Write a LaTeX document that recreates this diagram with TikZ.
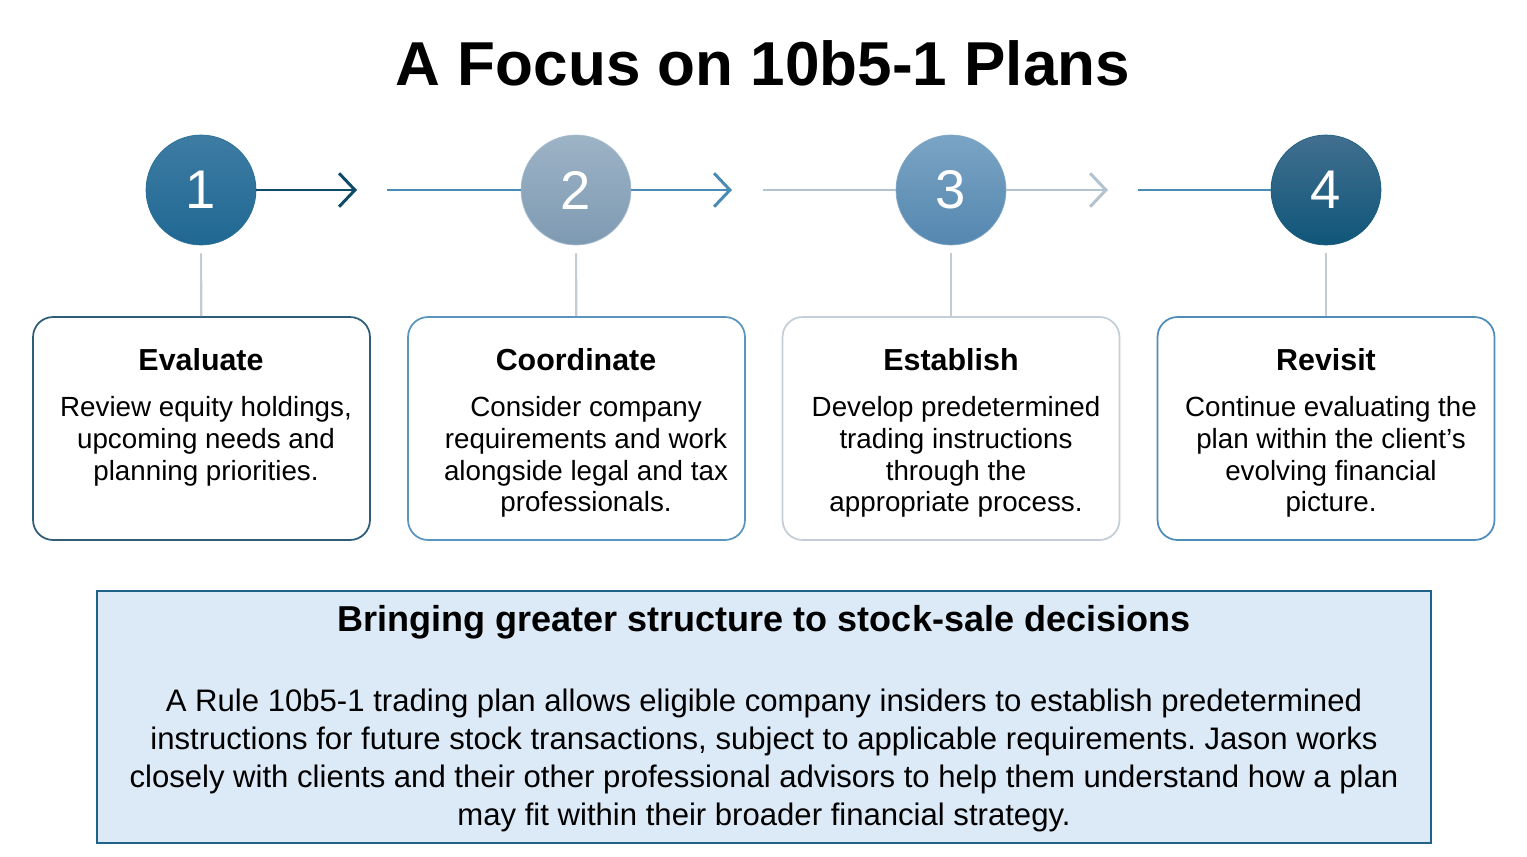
\documentclass[tikz,border=0pt]{standalone}
\usepackage{fontspec}
\setmainfont{Liberation Sans}
\usetikzlibrary{arrows.meta}
\usetikzlibrary{positioning}
\frenchspacing
\definecolor{darkflow}{HTML}{0E4A66}
\definecolor{midflow}{HTML}{4A8BB6}
\definecolor{greyflow}{HTML}{B3C2CF}
\definecolor{stemgrey}{HTML}{C3CCD5}
\definecolor{sumfill}{HTML}{DCE9F6}
\definecolor{sumdraw}{HTML}{1F6188}
\definecolor{onetop}{HTML}{3E7CA3}\definecolor{onebot}{HTML}{1F6893}\definecolor{oneline}{HTML}{2A6F98}
\definecolor{twotop}{HTML}{9DB3C6}\definecolor{twobot}{HTML}{7E9AB2}\definecolor{twoline}{HTML}{A9BDCF}
\definecolor{thrtop}{HTML}{7AA4C4}\definecolor{thrbot}{HTML}{5587B0}\definecolor{thrline}{HTML}{7FA7C6}
\definecolor{foutop}{HTML}{426F8F}\definecolor{foubot}{HTML}{0F5679}\definecolor{fouline}{HTML}{1B5C7E}
\definecolor{boxone}{HTML}{2E5D78}
\definecolor{boxtwo}{HTML}{5A95BF}
\definecolor{boxthr}{HTML}{C5CDD6}
\definecolor{boxfou}{HTML}{4E8DBA}
\tikzset{x=0.02cm, y=-0.02cm,
stepcircle/.style={ % Numbered circles on the top row
circle, minimum size=2.2cm, inner sep=0pt,
text=white, font=\fontsize{31}{31}\selectfont},
stepbox/.style={ % Rounded boxes under the circles
draw, line width=1pt, rounded corners=0.4cm,
minimum width=6.74cm, minimum height=4.46cm},
stephead/.style={font=\bfseries\fontsize{17.3}{20}\selectfont},
steptext/.style={align=center, anchor=north, inner sep=0pt,
font=\fontsize{15.8}{18.1}\selectfont},
flow/.style={line width=1.7pt},
tip/.style={-{Straight Barb[length=9pt,width=19pt]}},
stem/.style={draw=stemgrey, line width=1.2pt, shorten <=0.16cm}}

\begin{document}
\begin{tikzpicture}
\useasboundingbox (0,0) rectangle (1527,856);
\node[font=\bfseries\fontsize{35.3}{40}\selectfont] (title) at (763,63) {A Focus on 10b5-1 Plans};

% circles
\node[stepcircle, top color=onetop, bottom color=onebot, draw=oneline] (c1) at (201,190) {1};
\node[stepcircle, top color=twotop, bottom color=twobot, draw=twoline] (c2) at (576,190) {2};
\node[stepcircle, top color=thrtop, bottom color=thrbot, draw=thrline] (c3) at (951,190) {3};
\node[stepcircle, top color=foutop, bottom color=foubot, draw=fouline] (c4) at (1326,190) {4};

% flow lines between the circles
\coordinate (a1) at (357,190);
\coordinate (a2) at (732,190);
\coordinate (a3) at (1108,190);
\coordinate (l2) at (387,190);
\coordinate (l3) at (763,190);
\coordinate (l4) at (1138,190);
\draw[flow, tip, draw=darkflow] (c1) -- (a1);
\draw[flow, draw=midflow] (l2) -- (c2);
\draw[flow, tip, draw=midflow] (c2) -- (a2);
\draw[flow, draw=greyflow] (l3) -- (c3);
\draw[flow, tip, draw=greyflow] (c3) -- (a3);
\draw[flow, draw=midflow] (l4) -- (c4);

% boxes
\node[stepbox, draw=boxone] (b1) at (201.5,428.5) {};
\node[stepbox, draw=boxtwo] (b2) at (576.5,428.5) {};
\node[stepbox, draw=boxthr] (b3) at (951,428.5) {};
\node[stepbox, draw=boxfou] (b4) at (1326,428.5) {};
\draw[stem] (c1) -- (b1);
\draw[stem] (c2) -- (b2);
\draw[stem] (c3) -- (b3);
\draw[stem] (c4) -- (b4);

\node[stephead] (h1) at (201,360) {Evaluate};
\node[stephead] (h2) at (576,360) {Coordinate};
\node[stephead] (h3) at (951,360) {Establish};
\node[stephead] (h4) at (1326,360) {Revisit};
\node[steptext] (t1) at (206,396) {Review equity holdings,\\ upcoming needs and\\ planning priorities.};
\node[steptext] (t2) at (586,396) {Consider company\\ requirements and work\\ alongside legal and tax\\ professionals.};
\node[steptext] (t3) at (956,396) {Develop predetermined\\ trading instructions\\ through the\\ appropriate process.};
\node[steptext] (t4) at (1331,396) {Continue evaluating the\\ plan within the client’s\\ evolving financial\\ picture.};

% summary box
\node[draw=sumdraw, fill=sumfill, line width=1.3pt, minimum width=26.68cm, minimum height=5.04cm] (sum) at (764,717) {};
\node[font=\bfseries\fontsize{20.5}{24}\selectfont] (sumhead) at (764,622) {Bringing greater structure to stock-sale decisions};
\node[steptext, font=\fontsize{17.7}{21.5}\selectfont] (sumtext) at (764,689) {A Rule 10b5-1 trading plan allows eligible company insiders to establish predetermined\\ instructions for future stock transactions, subject to applicable requirements. Jason works\\ closely with clients and their other professional advisors to help them understand how a plan\\ may fit within their broader financial strategy.};
\end{tikzpicture}
\end{document}
